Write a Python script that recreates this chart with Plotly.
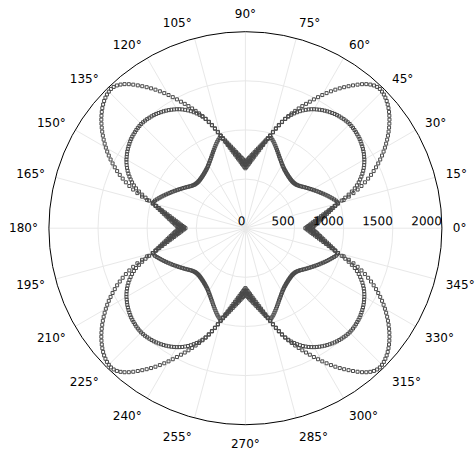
import plotly.graph_objects as go

theta_deg = list(range(0, 360))

r_outer = [
    675, 688, 701, 716, 731, 747, 764, 782, 801, 821, 843, 866, 890, 917, 945,
    975, 1040, 1100, 1156, 1208, 1257, 1303, 1347, 1389, 1429, 1467, 1504, 1540, 1575, 1608,
    1640, 1671, 1701, 1730, 1758, 1785, 1811, 1836, 1859, 1881, 1901, 1919, 1935, 1948, 1959,
    1966, 1970, 1966, 1955, 1937, 1914, 1886, 1854, 1820, 1786, 1752, 1717, 1681, 1643, 1604,
    1565, 1525, 1485, 1445, 1408, 1371, 1334, 1297, 1260, 1222, 1183, 1142, 1100, 1058, 1015,
    975, 945, 917, 890, 866, 843, 821, 801, 782, 764, 747, 731, 716, 701, 688,
    675, 688, 701, 716, 731, 747, 764, 782, 801, 821, 843, 866, 890, 917, 945,
    975, 1015, 1058, 1100, 1142, 1183, 1222, 1260, 1297, 1334, 1371, 1408, 1445, 1485, 1525,
    1565, 1604, 1643, 1681, 1717, 1752, 1786, 1820, 1854, 1886, 1914, 1937, 1955, 1966, 1970,
    1966, 1959, 1948, 1935, 1919, 1901, 1881, 1859, 1836, 1811, 1785, 1758, 1730, 1701, 1671,
    1640, 1608, 1575, 1540, 1504, 1467, 1429, 1389, 1347, 1303, 1257, 1208, 1156, 1100, 1040,
    975, 945, 917, 890, 866, 843, 821, 801, 782, 764, 747, 731, 716, 701, 688,
    675, 688, 701, 716, 731, 747, 764, 782, 801, 821, 843, 866, 890, 917, 945,
    975, 1040, 1100, 1156, 1208, 1257, 1303, 1347, 1389, 1429, 1467, 1504, 1540, 1575, 1608,
    1640, 1671, 1701, 1730, 1758, 1785, 1811, 1836, 1859, 1881, 1901, 1919, 1935, 1948, 1959,
    1966, 1970, 1966, 1955, 1937, 1914, 1886, 1854, 1820, 1786, 1752, 1717, 1681, 1643, 1604,
    1565, 1525, 1485, 1445, 1408, 1371, 1334, 1297, 1260, 1222, 1183, 1142, 1100, 1058, 1015,
    975, 945, 917, 890, 866, 843, 821, 801, 782, 764, 747, 731, 716, 701, 688,
    675, 688, 701, 716, 731, 747, 764, 782, 801, 821, 843, 866, 890, 917, 945,
    975, 1015, 1058, 1100, 1142, 1183, 1222, 1260, 1297, 1334, 1371, 1408, 1445, 1485, 1525,
    1565, 1604, 1643, 1681, 1717, 1752, 1786, 1820, 1854, 1886, 1914, 1937, 1955, 1966, 1970,
    1966, 1959, 1948, 1935, 1919, 1901, 1881, 1859, 1836, 1811, 1785, 1758, 1730, 1701, 1671,
    1640, 1608, 1575, 1540, 1504, 1467, 1429, 1389, 1347, 1303, 1257, 1208, 1156, 1100, 1040,
    975, 945, 917, 890, 866, 843, 821, 801, 782, 764, 747, 731, 716, 701, 688,
]

r_inner = [
    640, 654, 668, 684, 700, 718, 736, 756, 777, 799, 824, 850, 877, 907, 940,
    975, 1020, 1063, 1105, 1146, 1185, 1216, 1244, 1269, 1292, 1314, 1334, 1352, 1369, 1384,
    1398, 1410, 1422, 1433, 1443, 1452, 1460, 1468, 1475, 1481, 1486, 1490, 1494, 1497, 1499,
    1500, 1499, 1497, 1494, 1490, 1486, 1481, 1475, 1468, 1460, 1452, 1443, 1433, 1422, 1410,
    1398, 1384, 1369, 1352, 1334, 1314, 1292, 1269, 1244, 1216, 1185, 1146, 1105, 1063, 1020,
    975, 940, 907, 877, 850, 824, 799, 777, 756, 736, 718, 700, 684, 668, 654,
    640, 654, 668, 684, 700, 718, 736, 756, 777, 799, 824, 850, 877, 907, 940,
    975, 1020, 1063, 1105, 1146, 1185, 1216, 1244, 1269, 1292, 1314, 1334, 1352, 1369, 1384,
    1398, 1410, 1422, 1433, 1443, 1452, 1460, 1468, 1475, 1481, 1486, 1490, 1494, 1497, 1499,
    1500, 1499, 1497, 1494, 1490, 1486, 1481, 1475, 1468, 1460, 1452, 1443, 1433, 1422, 1410,
    1398, 1384, 1369, 1352, 1334, 1314, 1292, 1269, 1244, 1216, 1185, 1146, 1105, 1063, 1020,
    975, 940, 907, 877, 850, 824, 799, 777, 756, 736, 718, 700, 684, 668, 654,
    640, 654, 668, 684, 700, 718, 736, 756, 777, 799, 824, 850, 877, 907, 940,
    975, 1020, 1063, 1105, 1146, 1185, 1216, 1244, 1269, 1292, 1314, 1334, 1352, 1369, 1384,
    1398, 1410, 1422, 1433, 1443, 1452, 1460, 1468, 1475, 1481, 1486, 1490, 1494, 1497, 1499,
    1500, 1499, 1497, 1494, 1490, 1486, 1481, 1475, 1468, 1460, 1452, 1443, 1433, 1422, 1410,
    1398, 1384, 1369, 1352, 1334, 1314, 1292, 1269, 1244, 1216, 1185, 1146, 1105, 1063, 1020,
    975, 940, 907, 877, 850, 824, 799, 777, 756, 736, 718, 700, 684, 668, 654,
    640, 654, 668, 684, 700, 718, 736, 756, 777, 799, 824, 850, 877, 907, 940,
    975, 1020, 1063, 1105, 1146, 1185, 1216, 1244, 1269, 1292, 1314, 1334, 1352, 1369, 1384,
    1398, 1410, 1422, 1433, 1443, 1452, 1460, 1468, 1475, 1481, 1486, 1490, 1494, 1497, 1499,
    1500, 1499, 1497, 1494, 1490, 1486, 1481, 1475, 1468, 1460, 1452, 1443, 1433, 1422, 1410,
    1398, 1384, 1369, 1352, 1334, 1314, 1292, 1269, 1244, 1216, 1185, 1146, 1105, 1063, 1020,
    975, 940, 907, 877, 850, 824, 799, 777, 756, 736, 718, 700, 684, 668, 654,
]

r_wave = [
    610, 624, 640, 656, 673, 692, 712, 733, 756, 780, 806, 835, 866, 899, 935,
    975, 970, 962, 948, 934, 920, 906, 892, 878, 864, 850, 837, 824, 811, 798,
    786, 774, 762, 751, 740, 729, 718, 708, 699, 691, 685, 680, 677, 675, 674,
    674, 675, 677, 679, 682, 685, 689, 693, 698, 703, 709, 715, 722, 730, 739,
    749, 760, 772, 784, 797, 811, 826, 842, 858, 875, 892, 909, 926, 941, 955,
    975, 935, 899, 866, 835, 806, 780, 756, 733, 712, 692, 673, 656, 640, 624,
    610, 624, 640, 656, 673, 692, 712, 733, 756, 780, 806, 835, 866, 899, 935,
    975, 955, 941, 926, 909, 892, 875, 858, 842, 826, 811, 797, 784, 772, 760,
    749, 739, 730, 722, 715, 709, 703, 698, 693, 689, 685, 682, 679, 677, 675,
    674, 674, 675, 677, 680, 685, 691, 699, 708, 718, 729, 740, 751, 762, 774,
    786, 798, 811, 824, 837, 850, 864, 878, 892, 906, 920, 934, 948, 962, 970,
    975, 935, 899, 866, 835, 806, 780, 756, 733, 712, 692, 673, 656, 640, 624,
    610, 624, 640, 656, 673, 692, 712, 733, 756, 780, 806, 835, 866, 899, 935,
    975, 970, 962, 948, 934, 920, 906, 892, 878, 864, 850, 837, 824, 811, 798,
    786, 774, 762, 751, 740, 729, 718, 708, 699, 691, 685, 680, 677, 675, 674,
    674, 675, 677, 679, 682, 685, 689, 693, 698, 703, 709, 715, 722, 730, 739,
    749, 760, 772, 784, 797, 811, 826, 842, 858, 875, 892, 909, 926, 941, 955,
    975, 935, 899, 866, 835, 806, 780, 756, 733, 712, 692, 673, 656, 640, 624,
    610, 624, 640, 656, 673, 692, 712, 733, 756, 780, 806, 835, 866, 899, 935,
    975, 955, 941, 926, 909, 892, 875, 858, 842, 826, 811, 797, 784, 772, 760,
    749, 739, 730, 722, 715, 709, 703, 698, 693, 689, 685, 682, 679, 677, 675,
    674, 674, 675, 677, 680, 685, 691, 699, 708, 718, 729, 740, 751, 762, 774,
    786, 798, 811, 824, 837, 850, 864, 878, 892, 906, 920, 934, 948, 962, 970,
    975, 935, 899, 866, 835, 806, 780, 756, 733, 712, 692, 673, 656, 640, 624,
]

radial_ticks = [0, 500, 1000, 1500, 2000]
angular_ticks = [0, 15, 30, 45, 60, 75, 90, 105, 120, 135, 150, 165,
                 180, 195, 210, 225, 240, 255, 270, 285, 300, 315, 330, 345]
angular_labels = [f"{a}°" for a in angular_ticks]

fig = go.Figure()
for r_vals in (r_outer, r_inner, r_wave):
    fig.add_trace(go.Scatterpolar(
        r=r_vals, theta=theta_deg, mode="markers",
        marker=dict(symbol="square-open", size=3, color="#4a4a4a",
                    line=dict(width=1, color="#4a4a4a")),
        showlegend=False, hoverinfo="skip",
    ))

fig.update_layout(
    width=476, height=458,
    margin=dict(l=0, r=0, t=0, b=0),
    paper_bgcolor="white",
    font=dict(family="DejaVu Sans", size=12, color="black"),
    showlegend=False,
    polar=dict(
        domain=dict(x=[0.1027, 0.9284], y=[0.0727, 0.9308]),
        bgcolor="white",
        radialaxis=dict(range=[0, 2000], tickvals=radial_ticks,
                        showline=False, ticks="", gridcolor="#e8e8e8",
                        angle=0, side="counterclockwise", tickangle=0.1,
                        tickfont=dict(size=12, color="black")),
        angularaxis=dict(tickvals=angular_ticks, ticktext=angular_labels,
                         direction="counterclockwise", rotation=0,
                         showline=True, linecolor="black", linewidth=1,
                         ticks="outside", ticklen=8,
                         tickcolor="rgba(0,0,0,0)", gridcolor="#e8e8e8",
                         tickfont=dict(size=12, color="black")),
    ),
)

fig.write_html(
    "out.html",
    config={"displayModeBar": False},
    post_script="document.body.style.margin='0';document.body.style.overflow='hidden';",
)
